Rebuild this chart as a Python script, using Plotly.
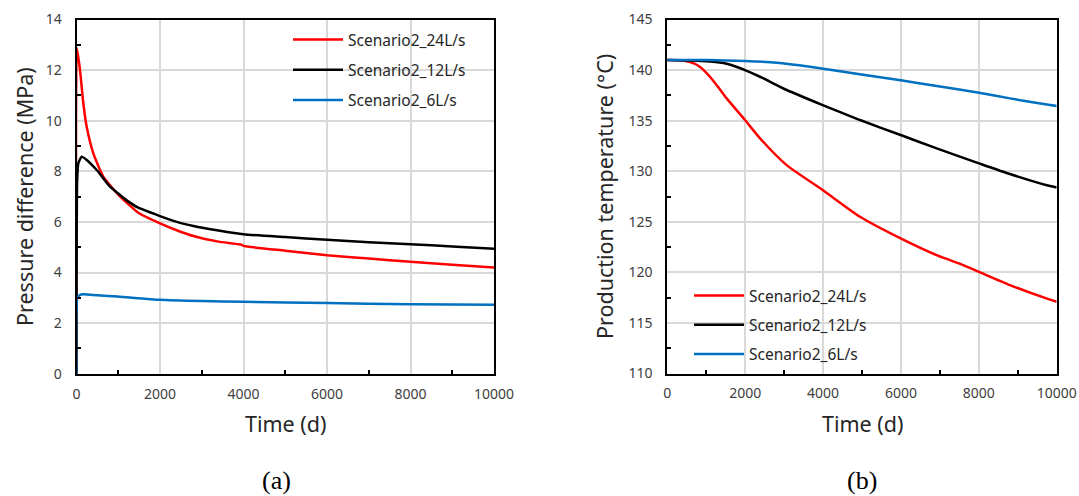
import plotly.graph_objects as go

W, H = 1079, 496

# ---- data (a) pressure difference ----
t_red_a = [0, 10, 84, 163, 244, 403, 642, 1000, 1480, 2000, 2400, 2800, 3400, 3950, 4000, 5000, 6000, 7000, 8000, 9000, 10000]
p_red_a = [0, 12.86, 12.0, 10.69, 9.76, 8.71, 7.79, 7.08, 6.36, 5.94, 5.67, 5.44, 5.22, 5.1, 5.05, 4.86, 4.68, 4.55, 4.42, 4.31, 4.2]
t_blk_a = [0, 15, 44, 124, 244, 484, 802, 1000, 1162, 1480, 2000, 2400, 2800, 3400, 4000, 5000, 6000, 7000, 8000, 9000, 10000]
p_blk_a = [0, 7.6, 8.32, 8.58, 8.45, 8.05, 7.39, 7.12, 6.9, 6.56, 6.23, 6.0, 5.84, 5.66, 5.51, 5.4, 5.29, 5.2, 5.12, 5.03, 4.94]
t_blu_a = [0, 20, 80, 165, 500, 990, 2000, 3000, 4000, 6000, 8000, 10000]
p_blu_a = [0, 3.0, 3.11, 3.14, 3.1, 3.05, 2.92, 2.87, 2.84, 2.79, 2.75, 2.73]

# ---- data (b) production temperature ----
t_red_b = [0, 350, 583, 720, 840, 960, 1094, 1300, 1525, 1995, 2381, 3066, 3990, 4949, 5993, 6918, 7601, 8004, 8800, 9828, 10000]
T_red_b = [141, 140.97, 140.8, 140.6, 140.3, 139.9, 139.34, 138.35, 137.2, 135.06, 133.25, 130.6, 128.14, 125.5, 123.36, 121.7, 120.72, 120.05, 118.74, 117.3, 117.1]
t_blk_b = [0, 600, 1094, 1350, 1525, 1750, 1995, 2381, 3066, 3990, 4949, 5993, 6918, 8004, 8800, 9828, 10000]
T_blk_b = [141, 140.95, 140.85, 140.75, 140.62, 140.35, 140.0, 139.34, 138.03, 136.54, 135.06, 133.58, 132.26, 130.78, 129.72, 128.53, 128.4]
t_blu_b = [0, 1000, 1500, 1995, 2809, 3665, 4520, 5377, 5993, 6918, 8004, 8800, 9828, 10000]
T_blu_b = [141, 141.0, 140.95, 140.9, 140.73, 140.33, 139.84, 139.34, 139.0, 138.42, 137.76, 137.2, 136.54, 136.45]

names = ["Scenario2_24L/s", "Scenario2_12L/s", "Scenario2_6L/s"]
colors = ["#ff0000", "#000000", "#0070c0"]

fig = go.Figure()
left = [(t_red_a, p_red_a), (t_blk_a, p_blk_a), (t_blu_a, p_blu_a)]
right = [(t_red_b, T_red_b), (t_blk_b, T_blk_b), (t_blu_b, T_blu_b)]
for i, (x, y) in enumerate(left):
    fig.add_trace(go.Scatter(x=x, y=y, mode="lines", name=names[i],
                             line=dict(color=colors[i], width=2.5, shape="spline", smoothing=0.5),
                             xaxis="x", yaxis="y", legend="legend", legendgroup="a%d" % i))
for i, (x, y) in enumerate(right):
    fig.add_trace(go.Scatter(x=x, y=y, mode="lines", name=names[i],
                             line=dict(color=colors[i], width=2.5, shape="spline", smoothing=0.6),
                             xaxis="x2", yaxis="y2", legend="legend2", legendgroup="b%d" % i))

tickfont = dict(family="Noto Sans", size=14, color="#404040")
common = dict(showline=True, mirror=True, linecolor="black", linewidth=2, showgrid=True, gridcolor="#d9d9d9", gridwidth=1.5,
              zeroline=False, tickfont=tickfont, ticks="", fixedrange=True, tickformat="d")
minor_x = dict(dtick=1000, ticks="inside", ticklen=4, tickwidth=1.5, tickcolor="black", showgrid=False)

fig.update_layout(
    width=W, height=H, margin=dict(l=0, r=0, t=0, b=0, autoexpand=False),
    paper_bgcolor="white", plot_bgcolor="white",
    xaxis=dict(domain=[76.5 / W, 494 / W], range=[0, 10000], dtick=2000, anchor="y", ticklabelstandoff=6,
               minor=minor_x, **common),
    yaxis=dict(domain=[1 - 373.7 / H, 1 - 19.5 / H], range=[0, 14], dtick=2, anchor="x", ticklabelstandoff=10,
               minor=dict(dtick=1, ticks="inside", ticklen=4, tickwidth=1.5, tickcolor="black", showgrid=False), **common),
    xaxis2=dict(domain=[667.3 / W, 1056.7 / W], range=[0, 10000], dtick=2000, anchor="y2", ticklabelstandoff=6,
                minor=minor_x, **common),
    yaxis2=dict(domain=[1 - 373.5 / H, 1 - 19.5 / H], range=[110, 145], dtick=5, anchor="x2", ticklabelstandoff=10,
                minor=dict(dtick=2.5, ticks="inside", ticklen=4, tickwidth=1.5, tickcolor="black", showgrid=False), **common),
    legend=dict(x=288 / W, y=1 - 23 / H, xanchor="left", yanchor="top", bgcolor="rgba(0,0,0,0)",
                font=dict(family="Noto Sans", size=15.5, color="#262626"), tracegroupgap=7, traceorder="grouped", itemwidth=50),
    legend2=dict(x=689 / W, y=1 - 279 / H, xanchor="left", yanchor="top", bgcolor="rgba(0,0,0,0)",
                 font=dict(family="Noto Sans", size=15.5, color="#262626"), tracegroupgap=6, traceorder="grouped", itemwidth=50),
    showlegend=True,
)

title_font = dict(family="Noto Sans", size=21.5, color="#262626")
ann = [
    dict(text="Pressure difference (MPa)", x=24 / W, y=1 - 197 / H, textangle=-90, font=title_font),
    dict(text="Time (d)", x=285 / W, y=1 - 423 / H, font=title_font),
    dict(text="Production temperature (°C)", x=604 / W, y=1 - 197 / H, textangle=-90, font=title_font),
    dict(text="Time (d)", x=862 / W, y=1 - 423 / H, font=title_font),
    dict(text="(a)", x=276 / W, y=1 - 480 / H, font=dict(family="Liberation Serif", size=26, color="black")),
    dict(text="(b)", x=862 / W, y=1 - 480 / H, font=dict(family="Liberation Serif", size=26, color="black")),
]
for a in ann:
    fig.add_annotation(xref="paper", yref="paper", showarrow=False, xanchor="center", yanchor="middle", **a)

fig.write_html("out.html")
